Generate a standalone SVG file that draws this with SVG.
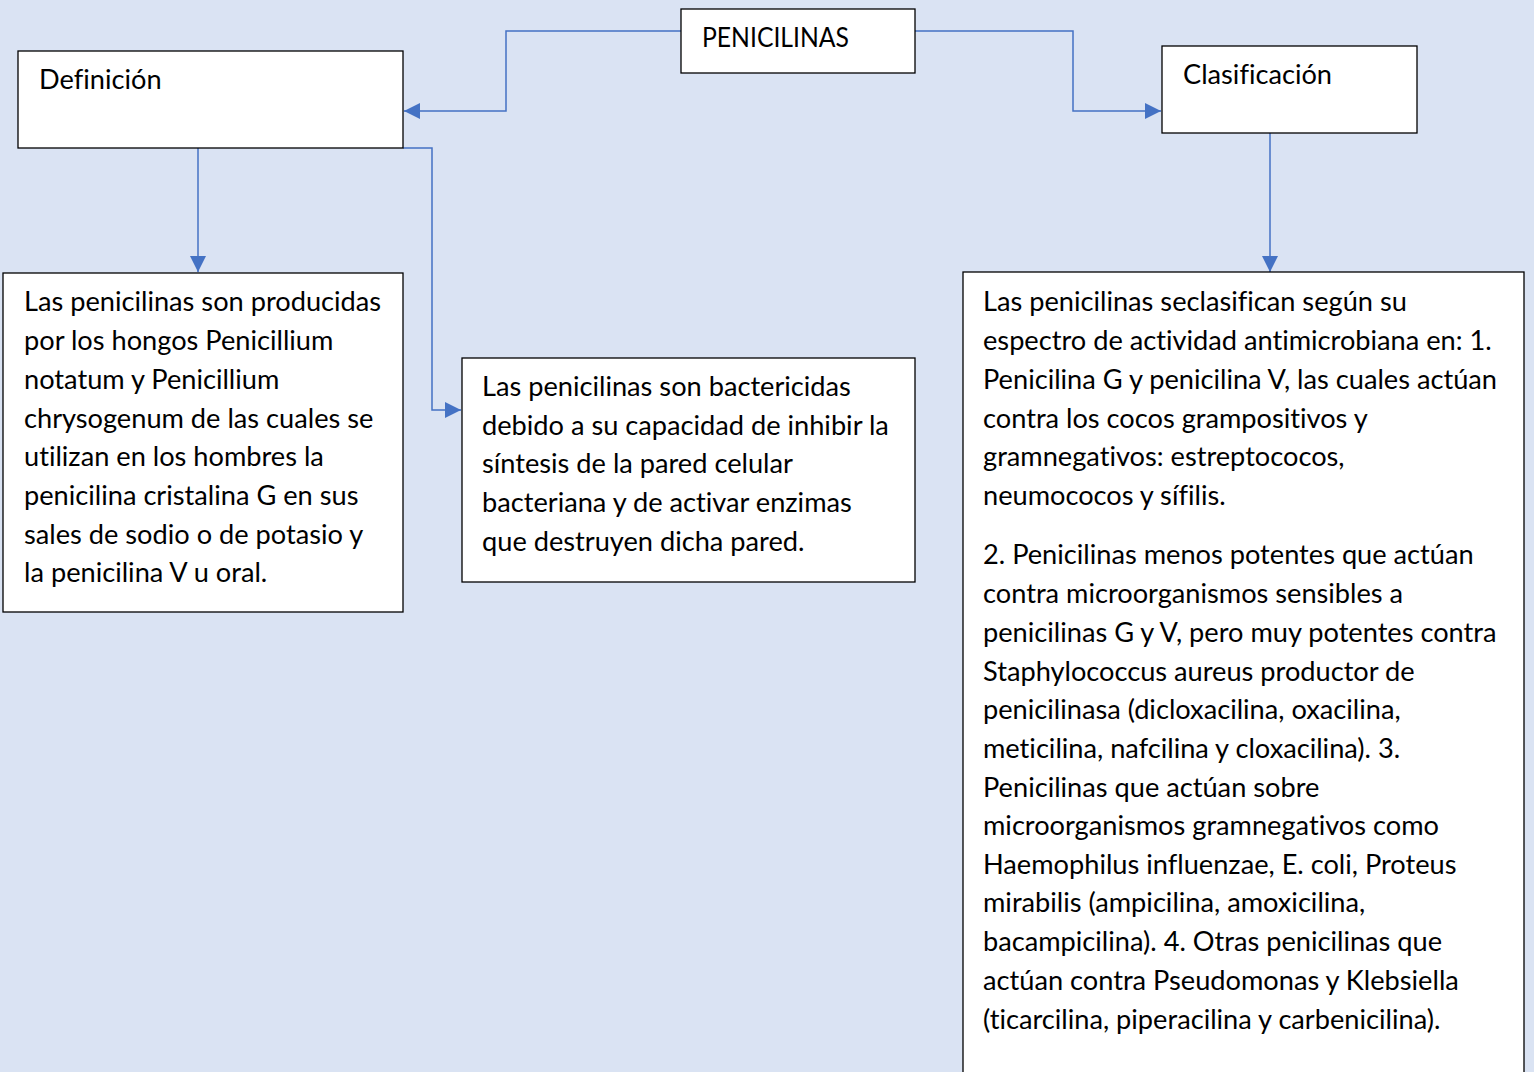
<svg xmlns="http://www.w3.org/2000/svg" width="1534" height="1072" viewBox="0 0 1534 1072">
<style>
.box{fill:#ffffff;stroke:#000000;stroke-width:1.3}
.t{font-family:Lato,"Liberation Sans",sans-serif;font-size:27.2px;fill:#000000;font-variant-ligatures:none}
.c{fill:none;stroke:#4472C4;stroke-width:1.5}
</style>
<defs>
<marker id="ahb" viewBox="0 0 16 16" refX="16" refY="8" markerWidth="16" markerHeight="16" markerUnits="userSpaceOnUse" orient="auto">
<path d="M0,0 L16,8 L0,16 z" fill="#4472C4"/>
</marker>
</defs>
<rect width="1534" height="1072" fill="#DAE3F3"/>
<g id="connectors">
<path class="c" d="M681,31 H506 V111 H404" marker-end="url(#ahb)"/>
<path class="c" d="M915,31 H1073 V111 H1161" marker-end="url(#ahb)"/>
<path class="c" d="M198,148 V272" marker-end="url(#ahb)"/>
<path class="c" d="M403,148 H432 V410 H461" marker-end="url(#ahb)"/>
<path class="c" d="M1270,133 V272" marker-end="url(#ahb)"/>
</g>
<g id="penicilinas">
<rect class="box" x="681" y="9" width="234" height="64"/>
<text class="t" x="702" y="47" textLength="147" lengthAdjust="spacingAndGlyphs">PENICILINAS</text>
</g>
<g id="definicion">
<rect class="box" x="18" y="51" width="385" height="97"/>
<text class="t" x="39" y="89">Definición</text>
</g>
<g id="clasificacion">
<rect class="box" x="1162" y="46" width="255" height="87"/>
<text class="t" x="1183" y="84">Clasificación</text>
</g>
<g id="definicion-texto">
<rect class="box" x="3" y="273" width="400" height="339"/>
<text class="t">
<tspan x="24" y="311">Las penicilinas son producidas</tspan>
<tspan x="24" y="350">por los hongos Penicillium</tspan>
<tspan x="24" y="389">notatum y Penicillium</tspan>
<tspan x="24" y="428">chrysogenum de las cuales se</tspan>
<tspan x="24" y="466">utilizan en los hombres la</tspan>
<tspan x="24" y="505">penicilina cristalina G en sus</tspan>
<tspan x="24" y="544">sales de sodio o de potasio y</tspan>
<tspan x="24" y="582">la penicilina V u oral.</tspan>
</text>
</g>
<g id="bactericidas">
<rect class="box" x="462" y="358" width="453" height="224"/>
<text class="t">
<tspan x="482" y="396">Las penicilinas son bactericidas</tspan>
<tspan x="482" y="435">debido a su capacidad de inhibir la</tspan>
<tspan x="482" y="473">síntesis de la pared celular</tspan>
<tspan x="482" y="512">bacteriana y de activar enzimas</tspan>
<tspan x="482" y="551">que destruyen dicha pared.</tspan>
</text>
</g>
<g id="clasificacion-texto">
<rect class="box" x="963" y="272" width="561" height="820"/>
<text class="t">
<tspan x="983" y="311">Las penicilinas seclasifican según su</tspan>
<tspan x="983" y="350">espectro de actividad antimicrobiana en: 1.</tspan>
<tspan x="983" y="389">Penicilina G y penicilina V, las cuales actúan</tspan>
<tspan x="983" y="428">contra los cocos grampositivos y</tspan>
<tspan x="983" y="466">gramnegativos: estreptococos,</tspan>
<tspan x="983" y="505">neumococos y sífilis.</tspan>
<tspan x="983" y="564">2. Penicilinas menos potentes que actúan</tspan>
<tspan x="983" y="603">contra microorganismos sensibles a</tspan>
<tspan x="983" y="642">penicilinas G y V, pero muy potentes contra</tspan>
<tspan x="983" y="681">Staphylococcus aureus productor de</tspan>
<tspan x="983" y="719">penicilinasa (dicloxacilina, oxacilina,</tspan>
<tspan x="983" y="758">meticilina, nafcilina y cloxacilina). 3.</tspan>
<tspan x="983" y="797">Penicilinas que actúan sobre</tspan>
<tspan x="983" y="835">microorganismos gramnegativos como</tspan>
<tspan x="983" y="874">Haemophilus influenzae, E. coli, Proteus</tspan>
<tspan x="983" y="912">mirabilis (ampicilina, amoxicilina,</tspan>
<tspan x="983" y="951">bacampicilina). 4. Otras penicilinas que</tspan>
<tspan x="983" y="990">actúan contra Pseudomonas y Klebsiella</tspan>
<tspan x="983" y="1029">(ticarcilina, piperacilina y carbenicilina).</tspan>
</text>
</g>
</svg>
